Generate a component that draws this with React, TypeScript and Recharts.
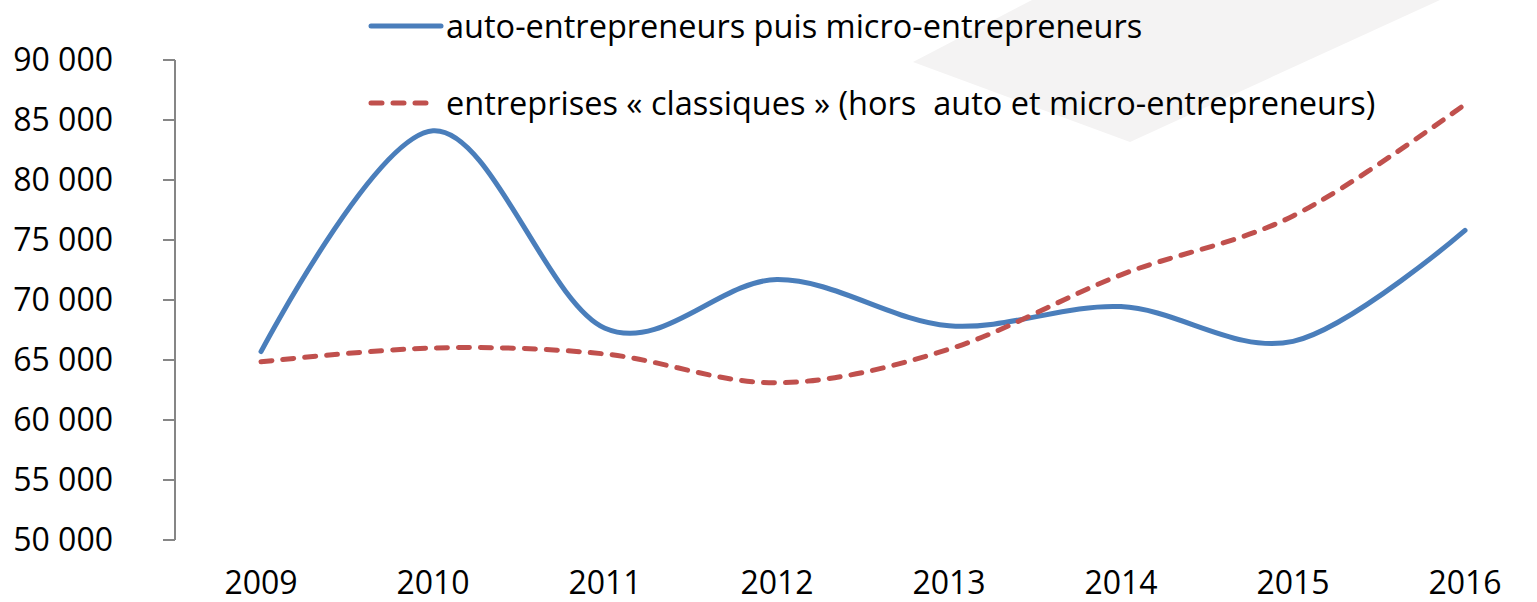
import React from "react";
import { Legend, Line, LineChart, XAxis, YAxis } from "recharts";

const years = ["2009", "2010", "2011", "2012", "2013", "2014", "2015", "2016"];
const autoEntrepreneurs = [65700, 84100, 67650, 71700, 67850, 69450, 66550, 75800];
const entreprisesClassiques = [64850, 66000, 65500, 63100, 65900, 72100, 77000, 86300];
const yTicks = [50000, 55000, 60000, 65000, 70000, 75000, 80000, 85000, 90000];
const seriesNames = [
  "auto-entrepreneurs puis micro-entrepreneurs",
  "entreprises « classiques » (hors  auto et micro-entrepreneurs)",
];

const data = years.map((year, i) => ({
  year,
  pos: i + 0.5,
  auto: autoEntrepreneurs[i],
  classiques: entreprisesClassiques[i],
}));

// tick marks sit between the years, like Excel's category axis
const boundaryTicks = [...years.map((_, i) => i), years.length];
const centerTicks = years.map((_, i) => i + 0.5);

const font = "'Open Sans', sans-serif";
const axisColor = "#868686";
const blue = "#4a7ebb";
const red = "#c0504d";
const dash = "11 11";

const formatThousands = (v: number) =>
  String(v).replace(/\B(?=(\d{3})+(?!\d))/g, " ");

// Catmull-Rom style smoothing (what Excel's "smoothed line" looks like)
class SmoothCurve {
  _context: any;
  _k = 1 / 6;
  _line: number = NaN;
  _point = 0;
  _x0 = NaN; _x1 = NaN; _x2 = NaN;
  _y0 = NaN; _y1 = NaN; _y2 = NaN;
  constructor(context: any) {
    this._context = context;
  }
  areaStart() { this._line = 0; }
  areaEnd() { this._line = NaN; }
  lineStart() {
    this._x0 = this._x1 = this._x2 = this._y0 = this._y1 = this._y2 = NaN;
    this._point = 0;
  }
  lineEnd() {
    switch (this._point) {
      case 2: this._context.lineTo(this._x2, this._y2); break;
      case 3: this.bezier(this._x1, this._y1); break;
    }
    if (this._line || (this._line !== 0 && this._point === 1)) this._context.closePath();
    this._line = 1 - this._line;
  }
  bezier(x: number, y: number) {
    this._context.bezierCurveTo(
      this._x1 + this._k * (this._x2 - this._x0),
      this._y1 + this._k * (this._y2 - this._y0),
      this._x2 + this._k * (this._x1 - x),
      this._y2 + this._k * (this._y1 - y),
      this._x2,
      this._y2,
    );
  }
  point(x: number, y: number) {
    x = +x; y = +y;
    switch (this._point) {
      case 0:
        this._point = 1;
        this._line ? this._context.lineTo(x, y) : this._context.moveTo(x, y);
        break;
      case 1:
        this._point = 2;
        this._x1 = x; this._y1 = y;
        break;
      case 2:
        this._point = 3;
        this.bezier(x, y);
        break;
      default:
        this.bezier(x, y);
    }
    this._x0 = this._x1; this._x1 = this._x2; this._x2 = x;
    this._y0 = this._y1; this._y1 = this._y2; this._y2 = y;
  }
}

const smooth = (context: any) => new SmoothCurve(context);

function LegendContent(props: any) {
  const payload = props.payload || [];
  return (
    <div style={{ fontFamily: font, fontSize: 32.5, color: "#000" }}>
      {payload.map((entry: any, i: number) => (
        <div
          key={entry.value}
          style={{ display: "flex", alignItems: "center", height: 40, marginTop: i === 0 ? 0 : 37 }}
        >
          <svg width={76} height={10} style={{ marginRight: 2 }}>
            <line
              x1={3}
              y1={5}
              x2={i === 0 ? 73 : 65}
              y2={5}
              stroke={entry.color}
              strokeWidth={5}
              strokeLinecap="round"
              strokeDasharray={entry.payload?.strokeDasharray}
            />
          </svg>
          <span style={{ whiteSpace: "pre", lineHeight: "40px" }}>{entry.value}</span>
        </div>
      ))}
    </div>
  );
}

export default function App() {
  return (
    <div
      style={{
        position: "fixed",
        left: 0,
        top: 0,
        width: 1537,
        height: 602,
        overflow: "hidden",
        background: "#fff",
      }}
    >
      <svg width={1537} height={602} style={{ position: "absolute", left: 0, top: 0 }}>
        <polygon points="913,62 1032,0 1440,0 1130,142" fill="#f4f3f3" />
      </svg>
      <div style={{ position: "absolute", left: 0, top: 0 }}>
        <LineChart
          width={1560}
          height={602}
          data={data}
          margin={{ top: 60, right: 9, bottom: 0, left: 0 }}
        >
          <XAxis
            xAxisId="ticks"
            type="number"
            dataKey="pos"
            domain={[0, years.length]}
            ticks={boundaryTicks}
            tick={false}
            height={0}
            tickSize={11}
            stroke={axisColor}
            strokeWidth={2}
            allowDataOverflow
          />
          <XAxis
            xAxisId="labels"
            type="number"
            dataKey="pos"
            domain={[0, years.length]}
            ticks={centerTicks}
            tickFormatter={(v) => years[Math.floor(v)]}
            axisLine={false}
            tickLine={false}
            tickSize={0}
            tickMargin={31}
            height={62}
            interval={0}
            tick={{ fontFamily: font, fontSize: 32, fill: "#000" }}
          />
          <YAxis
            type="number"
            domain={[yTicks[0], yTicks[yTicks.length - 1]]}
            ticks={yTicks}
            interval={0}
            width={175}
            tickSize={12}
            tickMargin={50}
            stroke={axisColor}
            strokeWidth={2}
            tickFormatter={formatThousands}
            tick={{ fontFamily: font, fontSize: 32, fill: "#000" }}
          />
          <Legend
            layout="horizontal"
            verticalAlign="middle"
            align="center"
            content={<LegendContent />}
            wrapperStyle={{ top: 6, left: 368, width: "auto", height: "auto" }}
          />
          <Line
            xAxisId="ticks"
            dataKey="auto"
            name={seriesNames[0]}
            type={smooth as any}
            stroke={blue}
            strokeWidth={5}
            strokeLinecap="round"
            dot={false}
            activeDot={false}
            isAnimationActive={false}
          />
          <Line
            xAxisId="ticks"
            dataKey="classiques"
            name={seriesNames[1]}
            type={smooth as any}
            stroke={red}
            strokeWidth={5}
            strokeLinecap="round"
            strokeDasharray={dash}
            dot={false}
            activeDot={false}
            isAnimationActive={false}
          />
        </LineChart>
      </div>
    </div>
  );
}
